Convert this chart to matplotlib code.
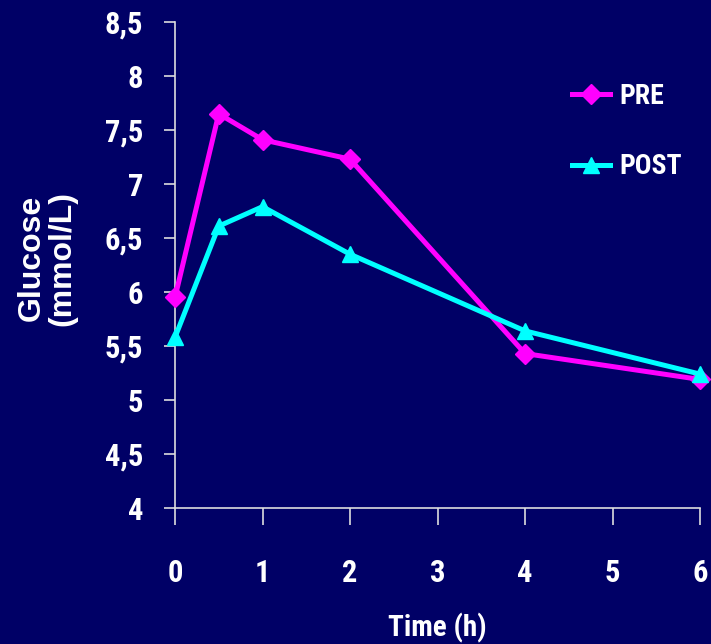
import matplotlib
matplotlib.use("Agg")
import matplotlib.pyplot as plt
from matplotlib.ticker import FuncFormatter

# glucose curve, pre vs post
time_h = [0, 0.5, 1, 2, 4, 6]
pre = [5.95, 7.65, 7.41, 7.23, 5.43, 5.19]
post = [5.58, 6.61, 6.79, 6.35, 5.64, 5.24]
y_ticks = [4, 4.5, 5, 5.5, 6, 6.5, 7, 7.5, 8, 8.5]
x_ticks = [0, 1, 2, 3, 4, 5, 6]

bg = '#000066'
narrow = ['Roboto Condensed', 'DejaVu Sans']

fig = plt.figure(figsize=(7.11, 6.44), dpi=100, facecolor=bg)
ax = fig.add_axes([175/711, 1-508/644, 525/711, 486/644], facecolor=bg)

ax.plot(time_h, pre, color='#ff00ff', lw=3.6, marker='D', ms=10, label='PRE', clip_on=False, zorder=3)
ax.plot(time_h, post, color='#00ffff', lw=3.6, marker='^', ms=12, label='POST', clip_on=False, zorder=3)

ax.set_xlim(0, 6)
ax.set_ylim(4, 8.5)
ax.set_xticks(x_ticks)
ax.set_yticks(y_ticks)
ax.yaxis.set_major_formatter(FuncFormatter(lambda v, p: ('%g' % v).replace('.', ',')))

for s in ['top', 'right']:
    ax.spines[s].set_visible(False)
for s in ['left', 'bottom']:
    ax.spines[s].set_color('#dddddd')
    ax.spines[s].set_linewidth(1.2)

ax.tick_params(axis='y', colors='#dddddd', length=8, width=1.2, pad=15)
ax.tick_params(axis='x', colors='#dddddd', length=12, width=1.2, pad=24)
for lab in ax.get_xticklabels() + ax.get_yticklabels():
    lab.set_color('white')
    lab.set_family(narrow)
    lab.set_fontweight('bold')
    lab.set_fontsize(22)

fig.text(437/711, 1-628/644, 'Time (h)', color='white', family=narrow, fontweight='bold',
         fontsize=21, ha='center', va='center')
fig.text(47/711, 1-258/644, 'Glucose\n(mmol/L)', color='white', family=['Liberation Sans', 'DejaVu Sans'],
         fontweight='bold', fontsize=23, ha='center', va='center', rotation=90, linespacing=1.0)

leg = ax.legend(loc='upper left', bbox_to_anchor=(547/711, 1-58/644), bbox_transform=fig.transFigure,
                frameon=False, labelspacing=1.56, handlelength=1.35, handletextpad=0.35,
                prop={'family': narrow, 'weight': 'bold', 'size': 20})
for t in leg.get_texts():
    t.set_color('white')

fig.savefig('out.png', dpi=100, facecolor=bg)
